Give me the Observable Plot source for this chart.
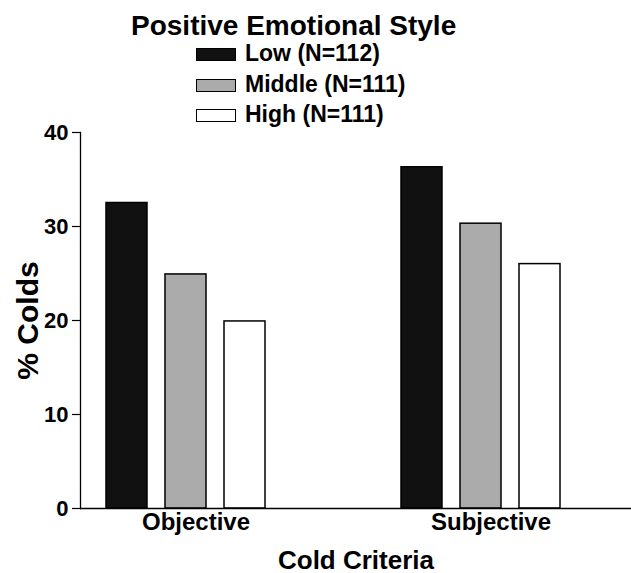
<!DOCTYPE html>
<html>
<head>
<meta charset="utf-8">
<script src="https://cdn.jsdelivr.net/npm/d3@7"></script>
<script src="https://cdn.jsdelivr.net/npm/@observablehq/plot@0.6"></script>
<style>
  html, body { margin: 0; padding: 0; background: #fff; }
  body { width: 631px; height: 573px; overflow: hidden; font-family: "Liberation Sans", Arial, sans-serif; font-weight: bold; color: #000; }
  #legend { position: relative; width: 631px; height: 118px; }
  #legend .title { position: absolute; left: 131px; top: 12px; font-size: 28px; line-height: 28px; white-space: nowrap; }
  #legend .item { position: absolute; left: 245px; font-size: 23px; line-height: 23px; white-space: nowrap; }
  #legend .sw { position: absolute; left: 196px; width: 40px; height: 13px; box-sizing: border-box; border: 1.5px solid #000; }
  svg { display: block; }
</style>
</head>
<body>
<div id="legend"></div>
<div id="chart"></div>
<script>
// ---- data ----
const legendTitle = "Positive Emotional Style";
const criteria = ["Objective", "Subjective"];
const levels = ["Low (N=112)", "Middle (N=111)", "High (N=111)"];
const objective = [32.5, 24.9, 19.9];
const subjective = [36.3, 30.3, 26.0];
const yTicks = [0, 10, 20, 30, 40];
const xLabel = "Cold Criteria";
const yLabel = "% Colds";

// ---- styles ----
const fills = ["#111111", "#ababab", "#ffffff"];

// ---- table ----
const seriesByCriterion = [objective, subjective];
const rows = [];
criteria.forEach((c, ci) => levels.forEach((l, li) => rows.push({criterion: c, level: l, key: c + "|" + l, value: seriesByCriterion[ci][li]})));
const keysOf = c => levels.map(l => c + "|" + l);
const xDomain = [...keysOf(criteria[0]), "gap-a", "gap-b", ...keysOf(criteria[1])];
const midKeys = criteria.map(c => c + "|" + levels[1]);
const keyToCrit = new Map(midKeys.map((k, i) => [k, criteria[i]]));

// ---- legend (HTML above the SVG) ----
const legend = document.getElementById("legend");
const t = document.createElement("div");
t.className = "title"; t.textContent = legendTitle; legend.appendChild(t);
const swTops = [48, 79, 109], txtTops = [42, 73, 103];
levels.forEach((l, i) => {
  const sw = document.createElement("div");
  sw.className = "sw"; sw.style.top = swTops[i] + "px"; sw.style.background = fills[i];
  legend.appendChild(sw);
  const tx = document.createElement("div");
  tx.className = "item"; tx.style.top = txtTops[i] + "px"; tx.textContent = l;
  legend.appendChild(tx);
});

// ---- chart ----
const chart = Plot.plot({
  width: 631,
  height: 455,
  marginTop: 14,
  marginLeft: 80,
  marginRight: 0,
  marginBottom: 65,
  style: {fontFamily: "'Liberation Sans', Arial, sans-serif", fontWeight: "bold", color: "#000", background: "#fff", overflow: "visible"},
  x: {domain: xDomain, paddingInner: 0.31, paddingOuter: 0.793, align: 0.265, axis: null},
  y: {domain: [0, 40], axis: null},
  color: {domain: levels, range: fills},
  marks: [
    Plot.barY(rows, {x: "key", y: "value", fill: "level", stroke: "#000", strokeWidth: 1.5}),
    Plot.frame({anchor: "left", stroke: "#000", strokeWidth: 1.3}),
    Plot.ruleY([0], {stroke: "#000", strokeWidth: 1.3}),
    Plot.axisY({ticks: yTicks, tickSize: 8, tickPadding: 4, fontSize: 22, label: null, strokeWidth: 1.2}),
    Plot.axisY({ticks: [], label: yLabel, labelAnchor: "center", labelArrow: "none", labelOffset: 64, fontSize: 30}),
    Plot.axisX({ticks: midKeys, tickSize: 0, tickPadding: 4, tickFormat: k => keyToCrit.get(k), fontSize: 24, dx: 10, label: null}),
    Plot.axisX({ticks: [], label: xLabel, labelAnchor: "center", labelArrow: "none", labelOffset: 60, fontSize: 26})
  ]
});
document.getElementById("chart").appendChild(chart);
</script>
</body>
</html>
